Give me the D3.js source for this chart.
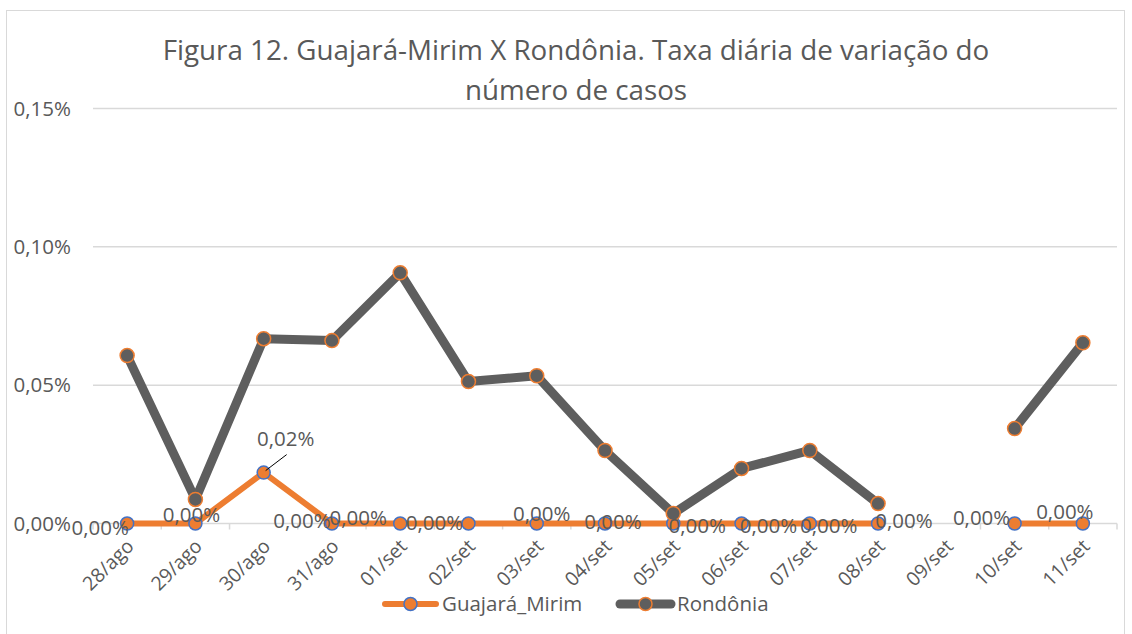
<!DOCTYPE html>
<html>
<head>
<meta charset="utf-8">
<script src="https://cdn.jsdelivr.net/npm/d3@7"></script>
<style>
  body { margin: 0; background: #fff; }
  svg text { font-family: "Open Sans", sans-serif; fill: #595959; }
</style>
</head>
<body>
<div id="chart"></div>
<script>
// Chart data
const categories = ['28/ago', '29/ago', '30/ago', '31/ago', '01/set', '02/set', '03/set', '04/set',
    '05/set', '06/set', '07/set', '08/set', '09/set', '10/set', '11/set'];
const guajaraMirim = [0, 0, 0.000184, 0, 0, 0, 0, 0, 0, 0, 0, 0, null, 0, 0];
const rondonia = [0.000607, 0.000087, 0.000668, 0.000661, 0.000906, 0.000513, 0.000534, 0.000264,
    0.000036, 0.000199, 0.000264, 0.000072, null, 0.000343, 0.000653];
const yTicks = [0, 0.0005, 0.001, 0.0015];
const seriesNames = ['Guajará_Mirim', 'Rondônia'];
const titleLines = ['Figura 12. Guajará-Mirim X Rondônia. Taxa diária de variação do', 'número de casos'];

// label nudges (Excel placed them by hand-ish), dx/dy from the point
const labelNudge = [[-27, 4], [-4, -9], [22, -34], [-30, -3], [-42, -6], [-34, -1], [5, -10], [8, -2],
    [24, 2], [27, 2], [19, 2], [26, -3], null, [-33, -6], [-18, -12]];

const W = 1132, H = 634;
const orange = '#ED7D31', gray = '#5E5E5E', blue = '#4472C4', grid = '#d9d9d9';

const locale = d3.formatLocale({ decimal: ',', thousands: '.', grouping: [3], currency: ['R$', ''] });
const pct = locale.format('.2%');

const svg = d3.select('#chart')
    .append('svg')
    .attr('width', W)
    .attr('height', H);

// chart border
svg.append('rect')
    .attr('x', 6.5).attr('y', 10.5)
    .attr('width', 1118).attr('height', 640)
    .attr('fill', '#fff')
    .attr('stroke', grid);

// Title, fitted to the width of the original
const title = svg.append('text')
    .attr('text-anchor', 'middle')
    .attr('font-size', 24);
titleLines.forEach((t, i) => {
    title.append('tspan').attr('x', 576).attr('y', 60 + i * 40).text(t);
});
const firstLen = title.select('tspan').node().getComputedTextLength();
title.attr('font-size', 24 * 827 / firstLen);

// Scales
const x = d3.scalePoint()
    .domain(categories)
    .range([93, 1117])
    .padding(0.5);
const y = d3.scaleLinear()
    .domain([0, 0.0015])
    .range([523.5, 108.5]);

// gridlines
svg.append('g')
    .selectAll('line')
    .data(yTicks.slice(1))
    .enter()
    .append('line')
    .attr('x1', 93).attr('x2', 1117)
    .attr('y1', d => y(d)).attr('y2', d => y(d))
    .attr('stroke', grid)
    .attr('stroke-width', 1.5);

// y axis labels
svg.append('g')
    .selectAll('text')
    .data(yTicks)
    .enter()
    .append('text')
    .attr('x', 71)
    .attr('y', d => y(d))
    .attr('dy', '0.35em')
    .attr('text-anchor', 'end')
    .attr('font-size', 20.5)
    .text(d => pct(d));

// x axis (baseline + ticks between categories)
const step = x.step();
const xAxis = svg.append('g').attr('transform', `translate(0,${y(0)})`);
xAxis.append('line')
    .attr('x1', 93).attr('x2', 1117)
    .attr('stroke', grid).attr('stroke-width', 1.5);
xAxis.selectAll('.tick')
    .data(d3.range(categories.length + 1))
    .enter()
    .append('line')
    .attr('x1', i => 93 + i * step).attr('x2', i => 93 + i * step)
    .attr('y1', 0).attr('y2', 6)
    .attr('stroke', grid).attr('stroke-width', 1.5);
xAxis.selectAll('.lbl')
    .data(categories)
    .enter()
    .append('text')
    .attr('text-anchor', 'end')
    .attr('font-size', 19.5)
    .attr('transform', d => `translate(${x(d) + 8},${24}) rotate(-45)`)
    .text(d => d);

const line = d3.line()
    .defined(d => d.v !== null)
    .x(d => x(d.c))
    .y(d => y(d.v));

const gData = categories.map((c, i) => ({ c: c, v: guajaraMirim[i], i: i }));
const rData = categories.map((c, i) => ({ c: c, v: rondonia[i], i: i }));

// Guajara-Mirim series
svg.append('path')
    .datum(gData)
    .attr('d', line)
    .attr('fill', 'none')
    .attr('stroke', orange)
    .attr('stroke-width', 6)
    .attr('stroke-linejoin', 'round')
    .attr('stroke-linecap', 'round');
svg.append('g')
    .selectAll('circle')
    .data(gData.filter(d => d.v !== null))
    .enter()
    .append('circle')
    .attr('cx', d => x(d.c))
    .attr('cy', d => y(d.v))
    .attr('r', 6.5)
    .attr('fill', orange)
    .attr('stroke', blue)
    .attr('stroke-width', 1.5);

// Rondonia series
svg.append('path')
    .datum(rData)
    .attr('d', line)
    .attr('fill', 'none')
    .attr('stroke', gray)
    .attr('stroke-width', 9)
    .attr('stroke-linejoin', 'round')
    .attr('stroke-linecap', 'round');
svg.append('g')
    .selectAll('circle')
    .data(rData.filter(d => d.v !== null))
    .enter()
    .append('circle')
    .attr('cx', d => x(d.c))
    .attr('cy', d => y(d.v))
    .attr('r', 7)
    .attr('fill', gray)
    .attr('stroke', orange)
    .attr('stroke-width', 1.5);

// data labels for Guajara-Mirim
const labelled = gData.filter(d => d.v !== null);
svg.append('g')
    .selectAll('text')
    .data(labelled)
    .enter()
    .append('text')
    .attr('x', d => x(d.c) + labelNudge[d.i][0])
    .attr('y', d => y(d.v) + labelNudge[d.i][1])
    .attr('dy', '0.35em')
    .attr('text-anchor', 'middle')
    .attr('font-size', 20.5)
    .text(d => pct(d.v));

// leader line for the 0,02% label
const peak = gData[2];
svg.append('line')
    .attr('x1', x(peak.c) + 2).attr('y1', y(peak.v) - 2)
    .attr('x2', x(peak.c) + 23).attr('y2', y(peak.v) - 18)
    .attr('stroke', '#000')
    .attr('stroke-width', 1);

// Legend
const legend = svg.append('g').attr('transform', 'translate(0,604)');
const legendItems = [
    { name: seriesNames[0], x: 382, color: orange, sw: 6, fill: orange, ring: blue },
    { name: seriesNames[1], x: 617, color: gray, sw: 9, fill: gray, ring: orange }
];
legendItems.forEach(item => {
    legend.append('line')
        .attr('x1', item.x + 3).attr('x2', item.x + 54)
        .attr('stroke', item.color)
        .attr('stroke-width', item.sw)
        .attr('stroke-linecap', 'round');
    legend.append('circle')
        .attr('cx', item.x + 28.5)
        .attr('r', 6.5)
        .attr('fill', item.fill)
        .attr('stroke', item.ring)
        .attr('stroke-width', 1.5);
    legend.append('text')
        .attr('x', item.x + 60)
        .attr('dy', '0.35em')
        .attr('font-size', 20.5)
        .text(item.name);
});
</script>
</body>
</html>
